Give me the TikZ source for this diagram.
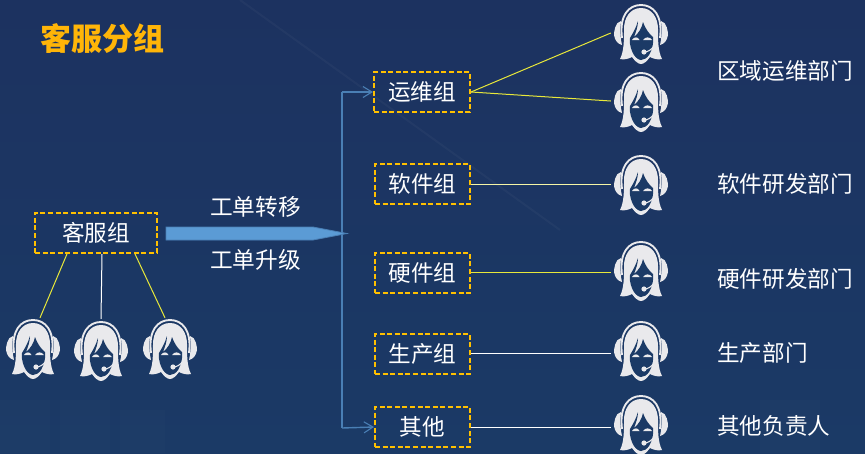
\documentclass[tikz,border=0pt]{standalone}
\usepackage{fontspec}
\setmainfont{Noto Sans CJK SC}
\usetikzlibrary{arrows.meta}
\definecolor{bgA}{HTML}{1B3A66}
\definecolor{bgB}{HTML}{1C3260}
\definecolor{dash}{HTML}{FFC000}
\definecolor{title}{HTML}{FFB508}
\definecolor{link}{HTML}{E8E83A}
\definecolor{ice}{HTML}{E9E9EC}
\definecolor{flow}{HTML}{4A7FB5}
\definecolor{block}{HTML}{5B9BD5}
\tikzset{
  x=1pt,y=-1pt,
  group/.style={draw=dash,line width=2pt,dash pattern=on 5pt off 2.6pt,text=white,inner sep=0pt,
    minimum width=95pt,minimum height=40pt,font=\fontsize{22.6}{24}\selectfont},
  lab/.style={text=white,anchor=west,inner sep=0pt,font=\fontsize{22.6}{24}\selectfont},
  slot/.style={inner sep=0pt,minimum width=60pt,minimum height=60pt},
  yline/.style={draw=link,line width=1pt},
  wline/.style={draw=white,line width=1pt},
  flowline/.style={draw=flow,line width=1.4pt},
  agent/.pic={
    % ear cups
    \fill[ice] (-20,-12) .. controls (-26,-11) and (-27,-1) .. (-27,2) .. controls (-26,8) and (-23,11) .. (-19,12) .. controls (-21,3) and (-21,-5) .. (-20,-12) -- cycle;
    \fill[ice] (20,-12) .. controls (26,-11) and (27,-1) .. (27,2) .. controls (26,8) and (23,11) .. (19,12) .. controls (21,3) and (21,-5) .. (20,-12) -- cycle;
    % headband
    \draw[ice,line width=1.9pt] (-19,5) .. controls (-22,-18) and (-12,-28) .. (0,-28) .. controls (12,-28) and (22,-18) .. (19,5);
    % hair
    \fill[ice] (0,-25) .. controls (-11,-25) and (-17,-15) .. (-17,-4) .. controls (-17,8) and (-17,18) .. (-21,26)
      .. controls (-17,27) and (-13,26) .. (-9,24) .. controls (-6,28) and (-3,31) .. (0,31)
      .. controls (3,31) and (6,28) .. (9,24) .. controls (13,26) and (17,27) .. (21,26)
      .. controls (17,18) and (17,8) .. (17,-4) .. controls (17,-15) and (11,-25) .. (0,-25) -- cycle;
    % face
    \fill[bgA] (-3,-12) .. controls (-5,-5) and (-8,0) .. (-11,5) .. controls (-12,12) and (-9,19) .. (-7,22)
      .. controls (-5,25) and (-2,27) .. (0,27) .. controls (3,27) and (6,25) .. (8,22)
      .. controls (11,17) and (13,10) .. (12,4) .. controls (8,1) and (4,-5) .. (2,-11)
      .. controls (1,-5) and (-3,1) .. (-7,4) .. controls (-5,-1) and (-3,-7) .. (-3,-12) -- cycle;
    % eyes
    \fill[ice] (-9,7) .. controls (-7,3.5) and (-3,3.5) .. (-1.5,7) -- cycle;
    \fill[ice] (2,7) .. controls (4,3.5) and (9,3.5) .. (11,7) -- cycle;
    % microphone
    \draw[ice,line width=1.1pt] (3,19) .. controls (7,19) and (10,17) .. (13,13);
    \fill[ice] (3,19) circle (2.6pt);
  }
}
\begin{document}
\begin{tikzpicture}
\useasboundingbox (0,0) rectangle (865,453);
\shade[top color=bgB,bottom color=bgA] (0,0) rectangle (865,453);
% faint background texture
\foreach \a/\b/\c/\d in {0/400/50/453,60/400/110/453,120/410/165/453,760/400/820/453}
  \fill[white,opacity=0.012] (\a,\b) rectangle (\c,\d);
\draw[white,opacity=0.03,line width=2pt] (240,0) -- (560,230);

\node[text=title,anchor=west,inner sep=0pt,font=\fontsize{31}{34}\bfseries\selectfont] (head) at (40,39) {客服分组};

% groups
\node[group,minimum width=122pt] (kf) at (96,233) {客服组};
\node[group,minimum width=96pt] (yw) at (422,92) {运维组};
\node[group] (rj) at (422.5,184) {软件组};
\node[group] (yj) at (422.5,273) {硬件组};
\node[group] (sc) at (422.5,354) {生产组};
\node[group] (qt) at (422.5,427) {其他};

% agents
\foreach \n/\px/\py in {b1/33/348,b2/101/350,b3/170/348,a1/641/33,a2/641/101,a3/641/184,a4/641/270,a5/641/350,a6/641/424}{
  \node[slot] (\n) at (\px,\py) {};
  \pic at (\n) {agent};
}

% customer service group to its agents
\path (kf.south west) ++(33,0) coordinate (k1);
\path (kf.south) ++(6,0) coordinate (k2);
\path (kf.south east) ++(-23,0) coordinate (k3);
\draw[yline] (k1) -- ([xshift=7pt]b1.north);
\draw[wline] (k2) -- ([yshift=1pt]b2.north);
\draw[yline] (k3) -- ([xshift=-5pt]b3.north);

% transfer arrow
\coordinate (trunkA) at (342,92);
\coordinate (trunkB) at (342,428);
\draw[flowline,-{Straight Barb[length=9pt,width=11pt,line width=1.1pt]}] (trunkA) -- (yw.west);
\draw[flowline] (trunkA) -- (trunkB);
\draw[flowline,-{Straight Barb[length=9pt,width=11pt,line width=1.1pt]}] (trunkB) -- (qt.west);
\fill[block,draw=flow,line width=.8pt] (166,227) -- (313,227) -- (347,233.5) -- (313,240) -- (166,240) -- cycle;
\node[text=white,inner sep=0pt,font=\fontsize{22.7}{24}\selectfont] (t1) at (255.5,207) {工单转移};
\node[text=white,inner sep=0pt,font=\fontsize{22.7}{24}\selectfont] (t2) at (255.5,260) {工单升级};

% groups to agents
\draw[yline] (yw.east) -- (a1.west);
\draw[yline] (yw.east) -- (a2.west);
\draw[draw=white!55!link,line width=1pt] (rj.east) -- (a3.west);
\draw[yline] (yj.east |- 0,272) -- (a4.west |- 0,272);
\draw[wline] (sc.east |- 0,353) -- (a5.west |- 0,353);
\draw[wline] (qt.east) -- (a6.west |- qt.east);

% departments
\node[lab] (d1) at (717,71) {区域运维部门};
\node[lab] (d2) at (717,184) {软件研发部门};
\node[lab] (d3) at (717,279) {硬件研发部门};
\node[lab] (d4) at (717,353) {生产部门};
\node[lab] (d5) at (717,426) {其他负责人};
\end{tikzpicture}
\end{document}
